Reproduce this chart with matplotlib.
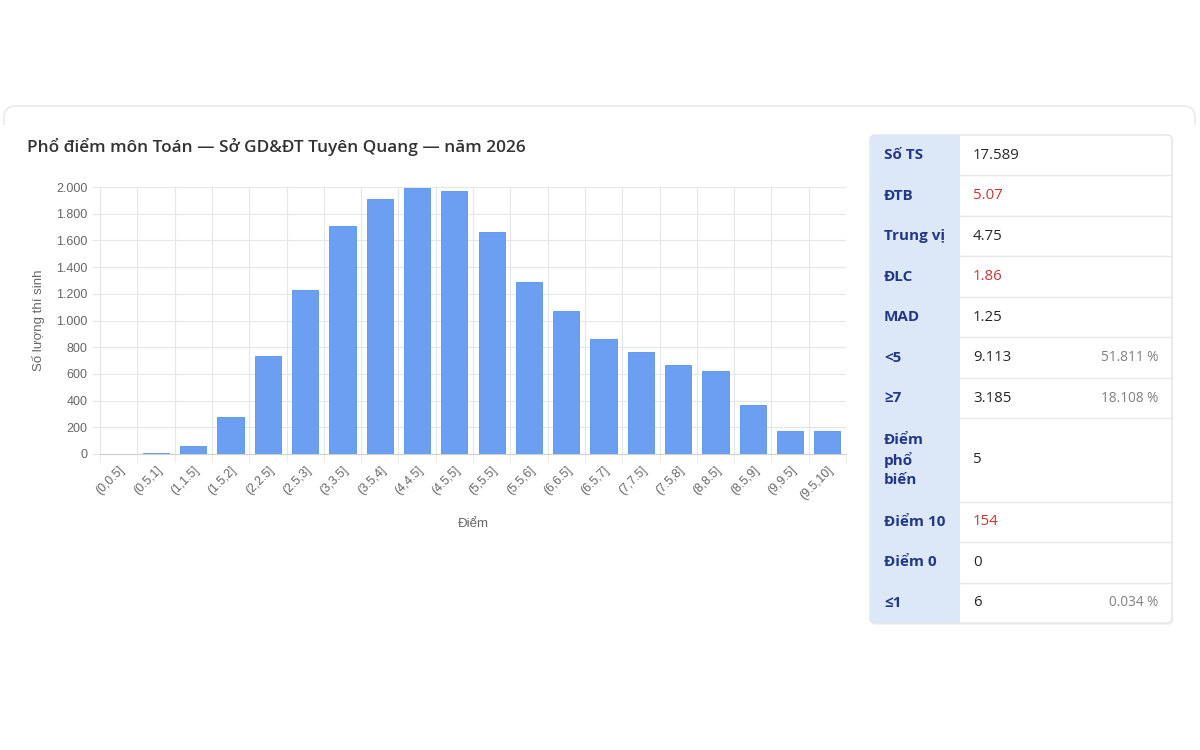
import matplotlib
matplotlib.use("Agg")
import matplotlib.pyplot as plt
from matplotlib.patches import FancyBboxPatch, Rectangle
import numpy as np

# ---------------- data ----------------
bins = ["(0,0.5]", "(0.5,1]", "(1,1.5]", "(1.5,2]", "(2,2.5]", "(2.5,3]", "(3,3.5]",
        "(3.5,4]", "(4,4.5]", "(4.5,5]", "(5,5.5]", "(5.5,6]", "(6,6.5]", "(6.5,7]",
        "(7,7.5]", "(7.5,8]", "(8,8.5]", "(8.5,9]", "(9,9.5]", "(9.5,10]"]
counts = [1, 5, 57, 277, 737, 1232, 1707, 1912, 1995, 1970, 1665, 1290, 1070,
          865, 765, 670, 620, 370, 170, 175]
yticks = [0, 200, 400, 600, 800, 1000, 1200, 1400, 1600, 1800, 2000]
ytick_labels = ["0", "200", "400", "600", "800", "1.000", "1.200", "1.400",
                "1.600", "1.800", "2.000"]

title = "Phổ điểm môn Toán — Sở GD&ĐT Tuyên Quang — năm 2026"
xlabel = "Điểm"
ylabel = "Số lượng thí sinh"

stat_labels = ["Số TS", "ĐTB", "Trung vị", "ĐLC", "MAD", "<5", "≥7",
               "Điểm\nphổ\nbiến", "Điểm 10", "Điểm 0", "≤1"]
stat_values = ["17.589", "5.07", "4.75", "1.86", "1.25", "9.113", "3.185",
               "5", "154", "0", "6"]
stat_pcts = ["", "", "", "", "", "51.811 %", "18.108 %", "", "", "", "0.034 %"]
stat_red = [False, True, False, True, False, False, False, False, True, False, False]
row_units = [1, 1, 1, 1, 1, 1, 1, 2.05, 1, 1, 1]

# ---------------- figure ----------------
W, H = 1200, 750
fig = plt.figure(figsize=(12, 7.5), dpi=100)
fig.patch.set_facecolor("white")

bg = fig.add_axes([0, 0, 1, 1], zorder=0)
bg.set_xlim(0, W)
bg.set_ylim(H, 0)
bg.axis("off")

# card (only the top edge is visible in the reference)
card = FancyBboxPatch((4, 106), W - 9, 700, boxstyle="round,pad=0,rounding_size=12",
                      facecolor="white", edgecolor="#eaeaea", linewidth=1.2)
bg.add_patch(card)
clip = Rectangle((0, 95), W, 30, transform=bg.transData, facecolor="none", edgecolor="none")
bg.add_patch(clip)
card.set_clip_path(clip)

# title
bg.text(27, 147, title, fontsize=12.4, fontfamily="Open Sans", fontweight="semibold",
        color="#333333", ha="left", va="center")

# ---------------- chart ----------------
L, R, T, B = 100, 846, 187, 454
ax = fig.add_axes([L / W, 1 - B / H, (R - L) / W, (B - T) / H], zorder=1)
ax.set_facecolor("none")
n = len(bins)
x = np.arange(n)
ax.bar(x, counts, width=0.7, color="#6a9ff2", edgecolor="#5a92ea", linewidth=0.6, zorder=3)
ax.set_xlim(-0.5, n - 0.5)
ax.set_ylim(0, 2000)

grid_c = "#e6e6e6"
ax.set_yticks(yticks)
ax.set_yticklabels(ytick_labels, fontsize=9, color="#666666", fontfamily="Liberation Sans")
ax.tick_params(axis="y", length=6, color=grid_c, pad=3)
ax.set_xticks(x)
ax.set_xticklabels(bins, rotation=45, ha="right", rotation_mode="anchor",
                   fontsize=8.8, color="#666666", fontfamily="Liberation Sans")
ax.tick_params(axis="x", length=0, pad=7)
ax.set_xticks(np.arange(n + 1) - 0.5, minor=True)
ax.tick_params(axis="x", which="minor", length=6, color=grid_c)
ax.grid(True, which="major", axis="y", color=grid_c, linewidth=0.8, zorder=0)
ax.grid(True, which="minor", axis="x", color=grid_c, linewidth=0.8, zorder=0)
for s in ["top", "right"]:
    ax.spines[s].set_visible(False)
ax.spines["left"].set_color(grid_c)
ax.spines["bottom"].set_color("#d0d0d0")
ax.set_axisbelow(True)

ax.set_xlabel(xlabel, fontsize=9.5, color="#666666", fontfamily="Liberation Sans", labelpad=12)
ax.set_ylabel(ylabel, fontsize=9.5, color="#666666", fontfamily="Liberation Sans", labelpad=8)

# ---------------- stats table ----------------
tx0, tx1, tx2 = 870, 960, 1172
ty0, ty1 = 135, 623
unit = (ty1 - ty0) / sum(row_units)

# shadow + outer box
bg.add_patch(FancyBboxPatch((tx0 + 1, ty0 + 2), tx2 - tx0, ty1 - ty0,
                            boxstyle="round,pad=0,rounding_size=5",
                            facecolor="#f2f2f2", edgecolor="none", zorder=1))
bg.add_patch(FancyBboxPatch((tx0, ty0), tx2 - tx0, ty1 - ty0,
                            boxstyle="round,pad=0,rounding_size=5",
                            facecolor="white", edgecolor="#e4e4e4", linewidth=1, zorder=2))
bg.add_patch(FancyBboxPatch((tx0, ty0), tx1 - tx0, ty1 - ty0,
                            boxstyle="round,pad=0,rounding_size=5",
                            facecolor="#dce8f8", edgecolor="none", zorder=3))
bg.add_patch(Rectangle((tx1 - 8, ty0), 8, ty1 - ty0, facecolor="#dce8f8",
                       edgecolor="none", zorder=3))

y = ty0
for i, lab in enumerate(stat_labels):
    h = row_units[i] * unit
    yc = y + h / 2
    if i > 0:
        bg.plot([tx1, tx2], [y, y], color="#e8e8e8", linewidth=1, zorder=4)
    bg.text(tx0 + 14, yc, lab, fontsize=11, fontfamily="Open Sans", fontweight="bold",
            color="#233788", ha="left", va="center", linespacing=1.4, zorder=5)
    bg.text(tx1 + 13, yc, stat_values[i], fontsize=10.8, fontfamily="Open Sans",
            color="#cc3333" if stat_red[i] else "#262626", ha="left", va="center", zorder=5)
    if stat_pcts[i]:
        bg.text(tx2 - 14, yc, stat_pcts[i], fontsize=9.8, fontfamily="Open Sans",
                color="#808080", ha="right", va="center", zorder=5)
    y += h

fig.savefig("out.png", dpi=100, facecolor="white")
